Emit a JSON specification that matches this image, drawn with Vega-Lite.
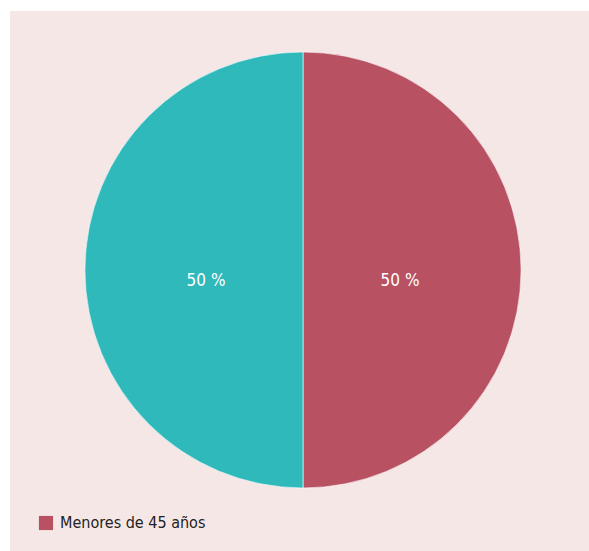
{
  "$schema": "https://vega.github.io/schema/vega-lite/v6.json",
  "autosize": {"type": "fit", "contains": "padding"},
  "width": 589,
  "height": 551,
  "padding": {"left": 10, "top": 11, "right": 0, "bottom": 0},
  "background": "white",
  "view": {"fill": "#f6e7e7", "stroke": null},
  "data": {"values": [
    {"grupo": "Menores de 45 años", "valor": 50, "etiqueta": "50 %", "orden": 1},
    {"grupo": "Mayores de 45 años", "valor": 50, "etiqueta": "50 %", "orden": 2}
  ]},
  "encoding": {
    "theta": {"field": "valor", "type": "quantitative", "stack": true},
    "order": {"field": "orden", "type": "quantitative", "sort": "ascending"}
  },
  "layer": [
    {
      "mark": {"type": "arc", "radius": 218, "xOffset": 3.5, "yOffset": -11, "stroke": "white", "strokeWidth": 0.6},
      "encoding": {
        "color": {
          "field": "grupo", "type": "nominal",
          "scale": {"domain": ["Menores de 45 años", "Mayores de 45 años"], "range": ["#b85262", "#2fb9bb"]},
          "sort": null,
          "legend": {
            "title": null,
            "values": ["Menores de 45 años"],
            "orient": "none",
            "legendX": 28,
            "legendY": 504,
            "symbolType": "square",
            "symbolSize": 200,
            "symbolStrokeWidth": 0,
            "labelFont": "DejaVu Sans Condensed, Roboto Condensed, Roboto, sans-serif",
            "labelFontSize": 16,
            "labelColor": "#222222",
            "labelOffset": 6
          }
        }
      }
    },
    {
      "mark": {"type": "text", "radius": 97, "xOffset": 3.5, "yOffset": 0, "color": "white", "font": "DejaVu Sans Condensed, Roboto Condensed, Roboto, sans-serif", "fontSize": 17},
      "encoding": {
        "text": {"field": "etiqueta"},
        "detail": {"field": "grupo", "sort": null}
      }
    }
  ]
}
